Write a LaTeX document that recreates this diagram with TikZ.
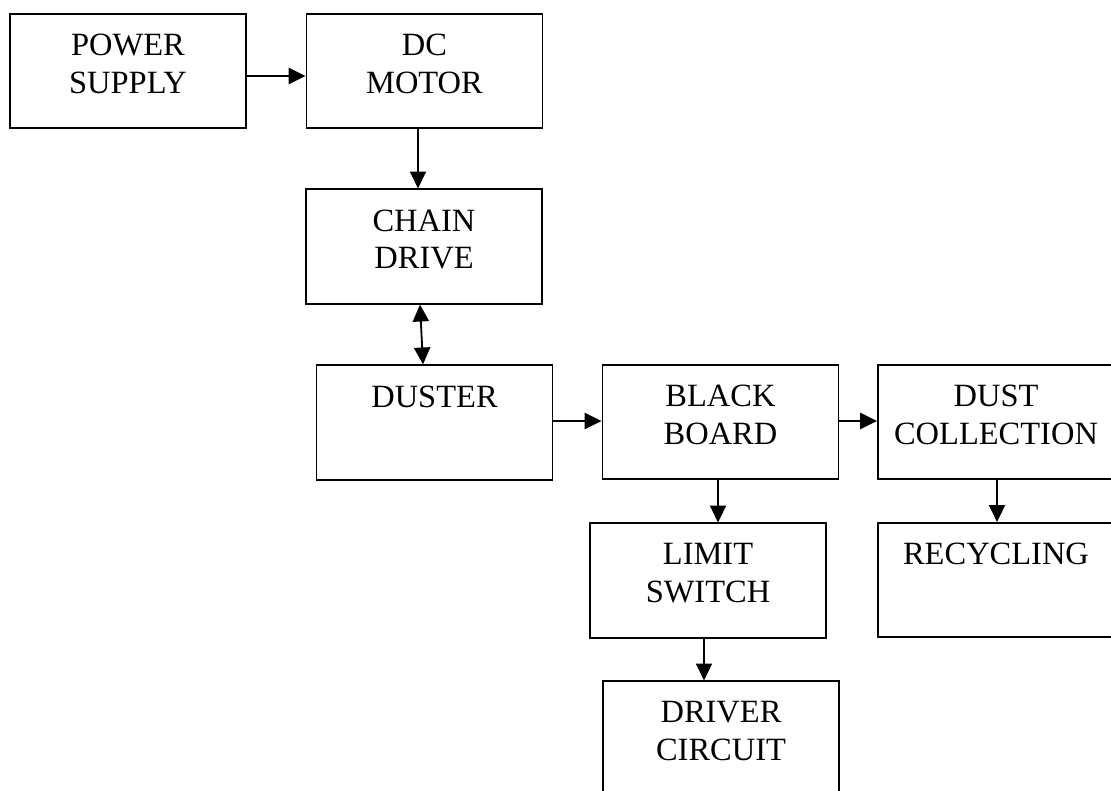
\documentclass[tikz,border=0pt]{standalone}
\usepackage{fontspec}
\setmainfont{Liberation Serif}
\usetikzlibrary{arrows.meta,calc,positioning}
\tikzset{
  block/.style={
    shape = rectangle,
    draw,
    fill = white,
    line width = 1.3pt,
    minimum width = 5.9cm,
    minimum height = 2.86cm
  },
}
\tikzset{
  blabel/.style={
    anchor = north,
    inner sep = 0pt,
    align = center,
    font = \fontsize{23.1}{26.7}\selectfont
  },
  flow/.style={
    line width = 1.3pt,
    -{Triangle[length=12pt,width=11.5pt]}
  },
  flowboth/.style={
    line width = 1.3pt,
    {Triangle[length=12pt,width=11.5pt]}-{Triangle[length=12pt,width=11.5pt]}
  }
}

\begin{document}
\begin{tikzpicture}[x=0.025cm, y=-0.025cm]
    \def\dt{21}
    \useasboundingbox (0,0) rectangle (1111,790);
    % boxes
    \node[block] (ps) at (128,71) {};
    \node[block] (dc) at (424.5,71) {};
    \node[block] (cd) at (424,246.5) {};
    \node[block] (du) at (434.5,422.5) {};
    \node[block] (bb) at (720.5,422) {};
    \node[block] (col) at (996,422) {};
    \node[block] (ls) at (708,580.5) {};
    \node[block] (re) at (996,580) {};
    \node[block] (dr) at (721,738.5) {};
    \foreach \n/\t in {ps/{POWER\\SUPPLY}, dc/{DC\\MOTOR}, cd/{CHAIN\\DRIVE},
      du/{DUSTER}, bb/{BLACK\\BOARD}, col/{DUST\\COLLECTION}, ls/{LIMIT\\SWITCH},
      re/{RECYCLING}, dr/{DRIVER\\CIRCUIT}}{
    \node[blabel] (\n-t) at ($(\n.north)+(0,\dt)$) {\t};}
    % connectors
    \draw[flow] (ps.east |- 0,76) -- (dc.west |- 0,76);
    \draw[flow] (dc.south -| 418,0) -- (cd.north -| 418,0);
    \draw[flowboth] (cd.south -| 420,0) -- (du.north -| 423,0);
    \draw[flow] (du.east |- 0,421) -- (bb.west |- 0,421);
    \draw[flow] (bb.east |- 0,421) -- (col.west |- 0,421);
    \draw[flow] (bb.south -| 718,0) -- (ls.north -| 718,0);
    \draw[flow] (col.south -| 997,0) -- (re.north -| 997,0);
    \draw[flow] (ls.south -| 704,0) -- (dr.north -| 704,0);
\end{tikzpicture}
\end{document}
